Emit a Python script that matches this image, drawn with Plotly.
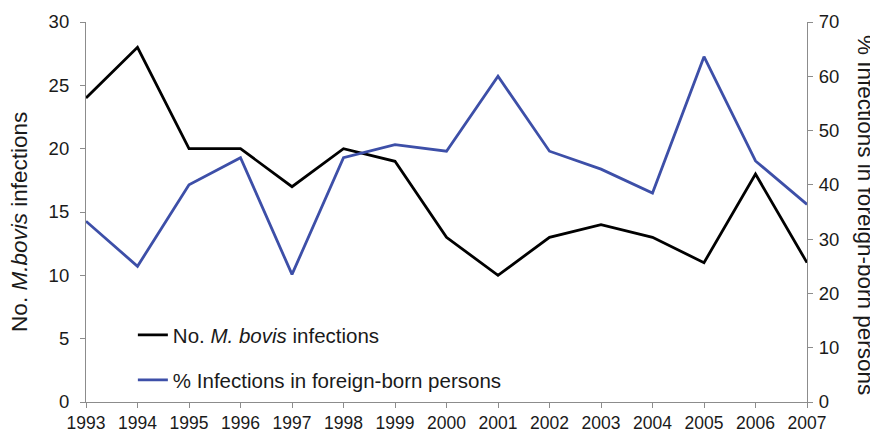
import plotly.graph_objects as go

years = list(range(1993, 2008))
bovis_counts = [24, 28, 20, 20, 17, 20, 19, 13, 10, 13, 14, 13, 11, 18, 11]
pct_foreign = [33.3, 25.0, 40.0, 45.0, 23.5, 45.0, 47.4, 46.2, 60.0, 46.2, 42.9, 38.5, 63.6, 44.4, 36.4]
left_ticks = [0, 5, 10, 15, 20, 25, 30]
right_ticks = [0, 10, 20, 30, 40, 50, 60, 70]

FONT = "Liberation Sans, Arial, sans-serif"
TXT = "#1a1a1a"
AXC = "#8c8c8c"

fig = go.Figure()
fig.add_trace(go.Scatter(x=years, y=bovis_counts, mode="lines", showlegend=True,
                         line=dict(color="black", width=2.8),
                         name="No. <i>M. bovis</i> infections", legend="legend"))
fig.add_trace(go.Scatter(x=years, y=pct_foreign, mode="lines", yaxis="y2", showlegend=True,
                         line=dict(color="#3d4fa8", width=2.8),
                         name="% Infections in foreign-born persons", legend="legend2"))

axis_common = dict(showgrid=False, zeroline=False, showline=True, linecolor=AXC, linewidth=1.2,
                   ticks="outside", ticklen=5, tickcolor=AXC, tickwidth=1.2, automargin=False)
tickfont_y = dict(family=FONT, size=18.5, color=TXT)
tickfont_x = dict(family=FONT, size=17.5, color=TXT)

# page body adds an 8px offset, so the figure is 8px smaller and margins shifted
fig.update_layout(
    width=870, height=426,
    margin=dict(l=78, r=71, t=14, b=32),
    paper_bgcolor="white", plot_bgcolor="white",
    font=dict(family=FONT, color=TXT),
    showlegend=True,
    xaxis=dict(range=[1993, 2007], tickvals=years, ticktext=[str(y) for y in years],
               ticklabelstandoff=0, tickfont=tickfont_x, **axis_common),
    yaxis=dict(range=[0, 30], tickvals=left_ticks, ticklabelstandoff=7, tickfont=tickfont_y, **axis_common),
    yaxis2=dict(range=[0, 70], tickvals=right_ticks, overlaying="y", side="right",
                ticklabelstandoff=2, tickfont=tickfont_y, **axis_common),
    legend=dict(x=0.065, y=0.176, xanchor="left", yanchor="middle", bgcolor="rgba(0,0,0,0)",
                font=dict(family=FONT, size=20.5, color=TXT)),
    legend2=dict(x=0.065, y=0.058, xanchor="left", yanchor="middle", bgcolor="rgba(0,0,0,0)",
                 font=dict(family=FONT, size=20.5, color=TXT)),
    annotations=[
        dict(text="No. <i>M.bovis</i> infections", xref="paper", yref="paper", x=0, y=0.474,
             xshift=-66, xanchor="center", yanchor="middle", textangle=-90, showarrow=False,
             font=dict(family=FONT, size=22.5, color=TXT)),
        dict(text="% Infections in foreign-born persons", xref="paper", yref="paper", x=1, y=0.492,
             xshift=59, xanchor="center", yanchor="middle", textangle=90, showarrow=False,
             font=dict(family=FONT, size=22.5, color=TXT)),
    ],
)

fig.write_html("out.html")
